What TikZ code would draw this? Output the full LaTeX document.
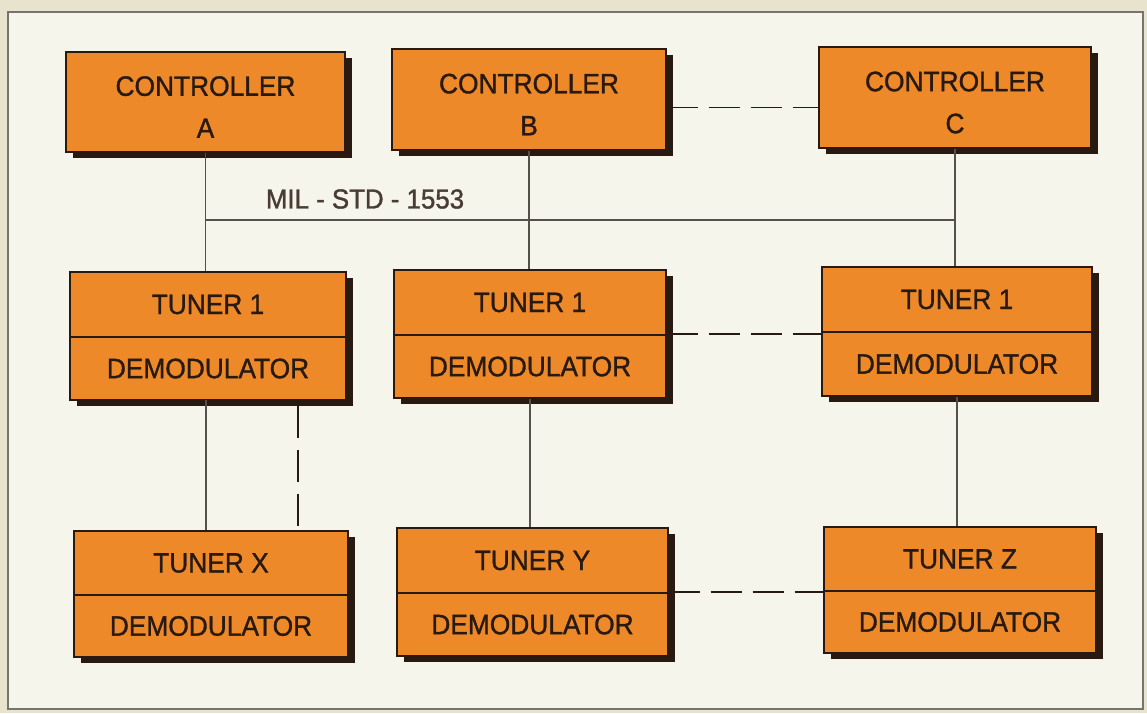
\documentclass[tikz,border=0pt]{standalone}
\usepackage{fontspec}
\setmainfont{Liberation Sans}[FakeStretch=0.94,FakeBold=1.2]
\usetikzlibrary{shadows}
\definecolor{outerbg}{RGB}{232,227,204}
\definecolor{innerbg}{RGB}{246,245,236}
\definecolor{boxfill}{RGB}{238,137,42}
\definecolor{ink}{RGB}{40,26,16}
\definecolor{wire}{RGB}{85,80,75}
\tikzset{
  blk/.style={draw=ink, line width=1.3pt, fill=boxfill, text=ink,
    font=\fontsize{28}{42}\selectfont, align=center, inner sep=0pt,
    drop shadow={shadow xshift=7pt, shadow yshift=-6pt, fill=ink, opacity=1}},
  blktext/.style={text=ink, font=\fontsize{28}{42}\selectfont, align=center, inner sep=0pt},
  wireline/.style={draw=wire, line width=1.6pt},
  dashline/.style={draw=ink, line width=1.8pt, dash pattern=on 31pt off 11pt},
  lbl/.style={text=ink!85, font=\fontsize{27.5}{30}\selectfont, inner sep=0pt}
}
\begin{document}
\begin{tikzpicture}[x=1pt,y=-1pt]
\useasboundingbox (0,0) rectangle (1147,713);
\fill[outerbg] (0,0) rectangle (1147,713);
\draw[draw=wire!80, line width=1.5pt, fill=innerbg] (8,12) rectangle (1143,709);

% controllers
\node[blk, minimum width=279pt, minimum height=100pt] (ctrlA) at (205.5,102) {};
\node[blktext] (ctrlAt) at ([yshift=-5pt]ctrlA.center) {CONTROLLER\\A};
\node[blk, minimum width=274pt, minimum height=101pt] (ctrlB) at (529,99.5) {};
\node[blktext] (ctrlBt) at ([yshift=-5pt]ctrlB.center) {CONTROLLER\\B};
\node[blk, minimum width=272pt, minimum height=101pt] (ctrlC) at (955,97.5) {};
\node[blktext] (ctrlCt) at ([yshift=-5pt]ctrlC.center) {CONTROLLER\\C};

% tuner 1 row
\node[blk, minimum width=276pt, minimum height=65pt] (tunA) at (208,304.5) {TUNER 1};
\node[blk, minimum width=276pt, minimum height=63pt] (demA) at (208,368.5) {DEMODULATOR};
\node[blk, minimum width=272pt, minimum height=65pt] (tunB) at (530,302.5) {TUNER 1};
\node[blk, minimum width=272pt, minimum height=63pt] (demB) at (530,366.5) {DEMODULATOR};
\node[blk, minimum width=270pt, minimum height=65pt] (tunC) at (957,299.5) {TUNER 1};
\node[blk, minimum width=270pt, minimum height=64pt] (demC) at (957,364) {DEMODULATOR};

% bottom row
\node[blk, minimum width=274pt, minimum height=64pt] (tunX) at (211,563) {TUNER X};
\node[blk, minimum width=274pt, minimum height=62pt] (demX) at (211,626) {DEMODULATOR};
\node[blk, minimum width=271pt, minimum height=65pt] (tunY) at (532.5,560.5) {TUNER Y};
\node[blk, minimum width=271pt, minimum height=63pt] (demY) at (532.5,624.5) {DEMODULATOR};
\node[blk, minimum width=272pt, minimum height=64pt] (tunZ) at (960,559) {TUNER Z};
\node[blk, minimum width=272pt, minimum height=62pt] (demZ) at (960,622) {DEMODULATOR};

% bus
\coordinate (busL) at (205,220);
\coordinate (busR) at (956,220);
\node[lbl] (bus) at (365,199) {MIL - STD - 1553};
\draw[wireline] (busL) -- (busR);
\draw[wireline] (ctrlA.south) -- (ctrlA.south |- tunA.north);
\draw[wireline] (ctrlB.south) -- (ctrlB.south |- tunB.north);
\draw[wireline] (ctrlC.south) -- (ctrlC.south |- tunC.north);

% tuner 1 to bottom row
\coordinate (aS) at (206,400);
\draw[wireline] (aS) -- (aS |- tunX.north);
\coordinate (aD) at (298,400);
\draw[dashline, dash pattern=on 32pt off 12pt, dash phase=-6pt] (aD) -- (aD |- tunX.north);
\draw[wireline] (demB.south) -- (demB.south |- tunY.north);
\draw[wireline] (demC.south) -- (demC.south |- tunZ.north);

% dashed cross links
\coordinate (bcL) at ([yshift=-8pt]ctrlB.east);
\draw[dashline] (bcL) -- (bcL -| ctrlC.west);
\draw[dashline] (demB.north east) -- (demB.north east -| demC.west);
\draw[dashline] (demY.north east) -- (demY.north east -| demZ.west);
\end{tikzpicture}
\end{document}
